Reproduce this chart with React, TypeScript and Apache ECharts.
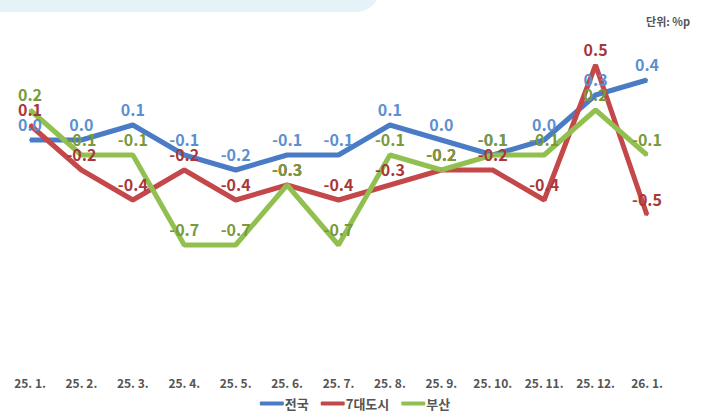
import React, { useEffect, useRef } from "react";
import * as echarts from "echarts";

const categories = ["25. 1.", "25. 2.", "25. 3.", "25. 4.", "25. 5.", "25. 6.", "25. 7.", "25. 8.", "25. 9.", "25. 10.", "25. 11.", "25. 12.", "26. 1."];
const national = [0.0, 0.0, 0.1, -0.1, -0.2, -0.1, -0.1, 0.1, 0.0, -0.1, 0.0, 0.3, 0.4];
const sevenCities = [0.1, -0.2, -0.4, -0.2, -0.4, -0.3, -0.4, -0.3, -0.2, -0.2, -0.4, 0.5, -0.5];
const busan = [0.2, -0.1, -0.1, -0.7, -0.7, -0.3, -0.7, -0.1, -0.2, -0.1, -0.1, 0.2, -0.1];

const FONT = "'Noto Sans CJK KR', 'Noto Sans', sans-serif";

export default function App() {
  const ref = useRef<HTMLDivElement>(null);
  useEffect(() => {
    if (!ref.current) return;
    const chart = echarts.init(ref.current, null, { renderer: "svg" });
    const mk = (name: string, data: number[], lineColor: string, labelColor: string) => ({
      name,
      type: "line",
      data,
      symbol: "circle",
      symbolSize: 2,
      showSymbol: true,
      lineStyle: { width: 5, color: lineColor },
      itemStyle: { color: lineColor },
      label: {
        show: true,
        position: "top",
        distance: 7,
        color: labelColor,
        fontSize: 16,
        fontWeight: "bold",
        fontFamily: FONT,
        formatter: (p: any) => Number(p.value).toFixed(1),
      },
    });
    chart.setOption({
      animation: false,
      backgroundColor: "#ffffff",
      graphic: [
        {
          type: "rect",
          shape: { x: -40, y: -60, width: 420, height: 72, r: 24 },
          style: { fill: "#e5f3f8" },
        },
        {
          type: "text",
          right: 20,
          top: 15,
          style: { text: "단위: %p", fill: "#555555", font: `bold 11px ${FONT}` },
        },
      ],
      grid: { left: 30, right: 63, top: 35, bottom: 54, containLabel: false },
      xAxis: {
        type: "category",
        data: categories,
        boundaryGap: false,
        axisLine: { show: false },
        axisTick: { show: false },
        axisLabel: { color: "#555555", fontSize: 12, fontWeight: "bold", fontFamily: FONT, margin: 11, interval: 0 },
        splitLine: { show: false },
      },
      yAxis: {
        type: "value",
        min: -1.5,
        max: 0.7,
        show: false,
        splitLine: { show: false },
      },
      legend: {
        bottom: 4,
        left: "center",
        itemWidth: 24,
        itemHeight: 4,
        itemGap: 12,
        icon: "roundRect",
        textStyle: { color: "#555555", fontSize: 13, fontWeight: "bold", fontFamily: FONT, padding: [0, 0, 0, -4] },
        data: ["전국", "7대도시", "부산"],
      },
      series: [
        mk("전국", national, "#4a7cc6", "#5b8fd2"),
        mk("7대도시", sevenCities, "#c4484a", "#a83838"),
        mk("부산", busan, "#92c050", "#789a3c"),
      ],
    });
    return () => chart.dispose();
  }, []);
  return <div ref={ref} style={{ position: "absolute", left: 0, top: 0, width: 710, height: 419 }} />;
}
